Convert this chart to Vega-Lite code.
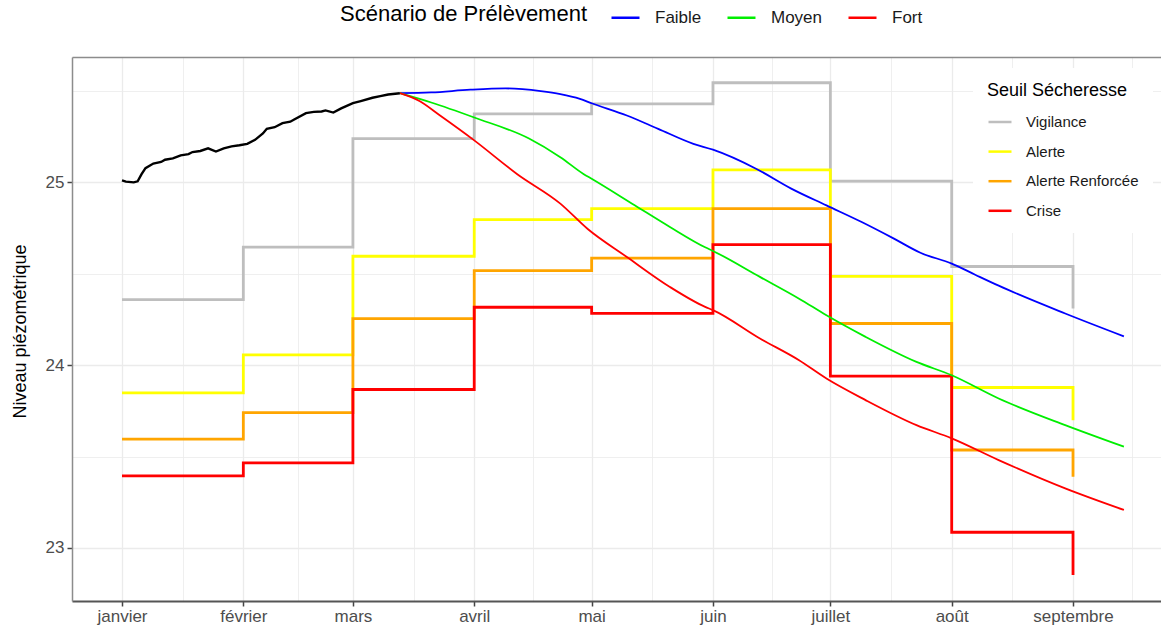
{
  "$schema": "https://vega.github.io/schema/vega-lite/v6.json",
  "width": 1089,
  "height": 544,
  "autosize": {"type": "none"},
  "padding": {"left": 72, "top": 57, "right": 0, "bottom": 25},
  "background": "white",
  "config": {
    "font": "Liberation Sans",
    "view": {"stroke": null}
  },
  "datasets": {
    "obs": [
      {"date": "2023-01-01", "niveau": 25.011},
      {"date": "2023-01-02", "niveau": 25.004},
      {"date": "2023-01-04", "niveau": 25.0},
      {"date": "2023-01-05", "niveau": 25.006},
      {"date": "2023-01-06", "niveau": 25.045},
      {"date": "2023-01-07", "niveau": 25.078},
      {"date": "2023-01-09", "niveau": 25.103},
      {"date": "2023-01-11", "niveau": 25.112},
      {"date": "2023-01-12", "niveau": 25.124},
      {"date": "2023-01-14", "niveau": 25.131},
      {"date": "2023-01-16", "niveau": 25.148},
      {"date": "2023-01-18", "niveau": 25.155},
      {"date": "2023-01-19", "niveau": 25.166},
      {"date": "2023-01-21", "niveau": 25.172},
      {"date": "2023-01-23", "niveau": 25.186},
      {"date": "2023-01-25", "niveau": 25.169},
      {"date": "2023-01-27", "niveau": 25.186},
      {"date": "2023-01-29", "niveau": 25.197},
      {"date": "2023-01-31", "niveau": 25.203},
      {"date": "2023-02-02", "niveau": 25.211},
      {"date": "2023-02-04", "niveau": 25.233},
      {"date": "2023-02-06", "niveau": 25.268},
      {"date": "2023-02-07", "niveau": 25.293},
      {"date": "2023-02-09", "niveau": 25.302},
      {"date": "2023-02-11", "niveau": 25.324},
      {"date": "2023-02-13", "niveau": 25.332},
      {"date": "2023-02-14", "niveau": 25.344},
      {"date": "2023-02-17", "niveau": 25.379},
      {"date": "2023-02-19", "niveau": 25.386},
      {"date": "2023-02-21", "niveau": 25.388},
      {"date": "2023-02-22", "niveau": 25.394},
      {"date": "2023-02-24", "niveau": 25.382},
      {"date": "2023-02-26", "niveau": 25.405},
      {"date": "2023-03-01", "niveau": 25.434},
      {"date": "2023-03-03", "niveau": 25.445},
      {"date": "2023-03-06", "niveau": 25.463},
      {"date": "2023-03-08", "niveau": 25.472},
      {"date": "2023-03-10", "niveau": 25.481},
      {"date": "2023-03-13", "niveau": 25.488}
    ],
    "scen": [
      {"scenario": "Faible", "date": "2023-03-13", "niveau": 25.488},
      {"scenario": "Faible", "date": "2023-03-21", "niveau": 25.492},
      {"scenario": "Faible", "date": "2023-03-31", "niveau": 25.507},
      {"scenario": "Faible", "date": "2023-04-09", "niveau": 25.514},
      {"scenario": "Faible", "date": "2023-04-18", "niveau": 25.499},
      {"scenario": "Faible", "date": "2023-04-23", "niveau": 25.483},
      {"scenario": "Faible", "date": "2023-04-28", "niveau": 25.457},
      {"scenario": "Faible", "date": "2023-05-01", "niveau": 25.433},
      {"scenario": "Faible", "date": "2023-05-10", "niveau": 25.366},
      {"scenario": "Faible", "date": "2023-05-18", "niveau": 25.293},
      {"scenario": "Faible", "date": "2023-05-27", "niveau": 25.211},
      {"scenario": "Faible", "date": "2023-06-01", "niveau": 25.179},
      {"scenario": "Faible", "date": "2023-06-12", "niveau": 25.075},
      {"scenario": "Faible", "date": "2023-06-21", "niveau": 24.966},
      {"scenario": "Faible", "date": "2023-06-30", "niveau": 24.874},
      {"scenario": "Faible", "date": "2023-07-09", "niveau": 24.783},
      {"scenario": "Faible", "date": "2023-07-17", "niveau": 24.695},
      {"scenario": "Faible", "date": "2023-07-24", "niveau": 24.615},
      {"scenario": "Faible", "date": "2023-08-01", "niveau": 24.556},
      {"scenario": "Faible", "date": "2023-08-07", "niveau": 24.495},
      {"scenario": "Faible", "date": "2023-08-13", "niveau": 24.435},
      {"scenario": "Faible", "date": "2023-08-30", "niveau": 24.283},
      {"scenario": "Faible", "date": "2023-09-14", "niveau": 24.158},
      {"scenario": "Moyen", "date": "2023-03-13", "niveau": 25.488},
      {"scenario": "Moyen", "date": "2023-03-21", "niveau": 25.437},
      {"scenario": "Moyen", "date": "2023-04-01", "niveau": 25.355},
      {"scenario": "Moyen", "date": "2023-04-15", "niveau": 25.24},
      {"scenario": "Moyen", "date": "2023-04-23", "niveau": 25.138},
      {"scenario": "Moyen", "date": "2023-04-29", "niveau": 25.045},
      {"scenario": "Moyen", "date": "2023-05-01", "niveau": 25.02},
      {"scenario": "Moyen", "date": "2023-05-12", "niveau": 24.875},
      {"scenario": "Moyen", "date": "2023-05-21", "niveau": 24.756},
      {"scenario": "Moyen", "date": "2023-05-30", "niveau": 24.645},
      {"scenario": "Moyen", "date": "2023-06-01", "niveau": 24.625},
      {"scenario": "Moyen", "date": "2023-06-13", "niveau": 24.483},
      {"scenario": "Moyen", "date": "2023-06-23", "niveau": 24.364},
      {"scenario": "Moyen", "date": "2023-06-30", "niveau": 24.273},
      {"scenario": "Moyen", "date": "2023-07-10", "niveau": 24.155},
      {"scenario": "Moyen", "date": "2023-07-23", "niveau": 24.018},
      {"scenario": "Moyen", "date": "2023-08-01", "niveau": 23.945},
      {"scenario": "Moyen", "date": "2023-08-13", "niveau": 23.818},
      {"scenario": "Moyen", "date": "2023-08-30", "niveau": 23.672},
      {"scenario": "Moyen", "date": "2023-09-14", "niveau": 23.554},
      {"scenario": "Fort", "date": "2023-03-13", "niveau": 25.488},
      {"scenario": "Fort", "date": "2023-03-18", "niveau": 25.445},
      {"scenario": "Fort", "date": "2023-03-23", "niveau": 25.37},
      {"scenario": "Fort", "date": "2023-04-01", "niveau": 25.23},
      {"scenario": "Fort", "date": "2023-04-12", "niveau": 25.045},
      {"scenario": "Fort", "date": "2023-04-23", "niveau": 24.884},
      {"scenario": "Fort", "date": "2023-04-30", "niveau": 24.745},
      {"scenario": "Fort", "date": "2023-05-10", "niveau": 24.592},
      {"scenario": "Fort", "date": "2023-05-21", "niveau": 24.428},
      {"scenario": "Fort", "date": "2023-05-30", "niveau": 24.319},
      {"scenario": "Fort", "date": "2023-06-01", "niveau": 24.301},
      {"scenario": "Fort", "date": "2023-06-13", "niveau": 24.146},
      {"scenario": "Fort", "date": "2023-06-23", "niveau": 24.027},
      {"scenario": "Fort", "date": "2023-06-30", "niveau": 23.927},
      {"scenario": "Fort", "date": "2023-07-10", "niveau": 23.809},
      {"scenario": "Fort", "date": "2023-07-23", "niveau": 23.672},
      {"scenario": "Fort", "date": "2023-08-01", "niveau": 23.6},
      {"scenario": "Fort", "date": "2023-08-13", "niveau": 23.481},
      {"scenario": "Fort", "date": "2023-08-30", "niveau": 23.326},
      {"scenario": "Fort", "date": "2023-09-14", "niveau": 23.208}
    ],
    "seuil": [
      {"seuil": "Vigilance", "date": "2023-01-01", "niveau": 24.359},
      {"seuil": "Vigilance", "date": "2023-02-01", "niveau": 24.646},
      {"seuil": "Vigilance", "date": "2023-03-01", "niveau": 25.24},
      {"seuil": "Vigilance", "date": "2023-04-01", "niveau": 25.375},
      {"seuil": "Vigilance", "date": "2023-05-01", "niveau": 25.43},
      {"seuil": "Vigilance", "date": "2023-06-01", "niveau": 25.545},
      {"seuil": "Vigilance", "date": "2023-07-01", "niveau": 25.007},
      {"seuil": "Vigilance", "date": "2023-08-01", "niveau": 24.54},
      {"seuil": "Vigilance", "date": "2023-09-01", "niveau": 24.31},
      {"seuil": "Alerte", "date": "2023-01-01", "niveau": 23.849},
      {"seuil": "Alerte", "date": "2023-02-01", "niveau": 24.056},
      {"seuil": "Alerte", "date": "2023-03-01", "niveau": 24.596},
      {"seuil": "Alerte", "date": "2023-04-01", "niveau": 24.796},
      {"seuil": "Alerte", "date": "2023-05-01", "niveau": 24.856},
      {"seuil": "Alerte", "date": "2023-06-01", "niveau": 25.069},
      {"seuil": "Alerte", "date": "2023-07-01", "niveau": 24.486},
      {"seuil": "Alerte", "date": "2023-08-01", "niveau": 23.878},
      {"seuil": "Alerte", "date": "2023-09-01", "niveau": 23.699},
      {"seuil": "Alerte Renforcée", "date": "2023-01-01", "niveau": 23.596},
      {"seuil": "Alerte Renforcée", "date": "2023-02-01", "niveau": 23.74},
      {"seuil": "Alerte Renforcée", "date": "2023-03-01", "niveau": 24.255},
      {"seuil": "Alerte Renforcée", "date": "2023-04-01", "niveau": 24.517},
      {"seuil": "Alerte Renforcée", "date": "2023-05-01", "niveau": 24.586},
      {"seuil": "Alerte Renforcée", "date": "2023-06-01", "niveau": 24.856},
      {"seuil": "Alerte Renforcée", "date": "2023-07-01", "niveau": 24.228},
      {"seuil": "Alerte Renforcée", "date": "2023-08-01", "niveau": 23.536},
      {"seuil": "Alerte Renforcée", "date": "2023-09-01", "niveau": 23.39},
      {"seuil": "Crise", "date": "2023-01-01", "niveau": 23.395},
      {"seuil": "Crise", "date": "2023-02-01", "niveau": 23.466},
      {"seuil": "Crise", "date": "2023-03-01", "niveau": 23.867},
      {"seuil": "Crise", "date": "2023-04-01", "niveau": 24.317},
      {"seuil": "Crise", "date": "2023-05-01", "niveau": 24.283},
      {"seuil": "Crise", "date": "2023-06-01", "niveau": 24.66},
      {"seuil": "Crise", "date": "2023-07-01", "niveau": 23.94},
      {"seuil": "Crise", "date": "2023-08-01", "niveau": 23.086},
      {"seuil": "Crise", "date": "2023-09-01", "niveau": 22.852}
    ]
  },
  "resolve": {"scale": {"color": "independent"}, "axis": {"x": "independent"}},
  "layer": [
    {
      "data": {"name": "seuil"},
      "mark": {"type": "line", "interpolate": "step-after", "strokeWidth": 2.8, "strokeCap": "butt"},
      "encoding": {
        "x": {
          "field": "date", "type": "temporal",
          "scale": {"type": "utc", "domain": [1671427353600, 1695468672000], "nice": false},
          "axis": {
            "orient": "bottom",
            "title": null,
            "values": [1672531200000, 1673870400000, 1675209600000, 1676419200000, 1677628800000, 1678968000000, 1680307200000, 1681603200000, 1682899200000, 1684238400000, 1685577600000, 1686873600000, 1688169600000, 1689508800000, 1690848000000, 1692187200000, 1693526400000, 1694822400000],
            "labelExpr": "utcdate(datum.value) == 1 ? ['janvier','février','mars','avril','mai','juin','juillet','août','septembre','octobre','novembre','décembre'][utcmonth(datum.value)] : ''",
            "labelFontSize": 17,
            "labelColor": "#4d4d4d",
            "labelPadding": 2,
            "labelFlush": false,
            "labelOverlap": false,
            "tickSize": 5,
            "tickWidth": 1.5,
            "tickColor": {"condition": {"test": "utcdate(datum.value) != 1", "value": "transparent"}, "value": "#444444"},
            "domainColor": "#555555",
            "domainWidth": 2,
            "grid": true,
            "gridColor": "#EBEBEB",
            "gridWidth": {"condition": {"test": "utcdate(datum.value) != 1", "value": 0.8}, "value": 1.3}
          }
        },
        "y": {
          "field": "niveau", "type": "quantitative",
          "scale": {"domain": [22.71, 25.686], "nice": false, "zero": false},
          "axis": {
            "title": "Niveau piézométrique",
            "titleFontSize": 18,
            "titleFontWeight": "normal",
            "titleColor": "#000000",
            "titleX": -52,
            "titleY": 274,
            "titleAngle": 270,
            "titleAlign": "center",
            "titleBaseline": "middle",
            "values": [23, 23.5, 24, 24.5, 25, 25.5],
            "labelExpr": "datum.value % 1 == 0 ? format(datum.value, 'd') : ''",
            "labelFontSize": 17,
            "labelColor": "#4d4d4d",
            "labelPadding": 3,
            "tickSize": 5,
            "tickWidth": 1.5,
            "tickColor": {"condition": {"test": "datum.value % 1 != 0", "value": "transparent"}, "value": "#444444"},
            "domainColor": "#8c8c8c",
            "domainWidth": 1.5,
            "grid": true,
            "gridColor": "#EBEBEB",
            "gridWidth": {"condition": {"test": "datum.value % 1 != 0", "value": 0.8}, "value": 1.3}
          }
        },
        "color": {
          "field": "seuil", "type": "nominal",
          "scale": {"domain": ["Vigilance", "Alerte", "Alerte Renforcée", "Crise"], "range": ["#BEBEBE", "#FFFF00", "#FFA500", "#FF0000"]},
          "legend": {
            "title": "Seuil Sécheresse",
            "orient": "none",
            "legendX": 901,
            "legendY": 11,
            "padding": 14,
            "fillColor": "white",
            "titleFontSize": 18,
            "titleFontWeight": "normal",
            "titleColor": "#000000",
            "titlePadding": 9,
            "titleLimit": 400,
            "labelFontSize": 15,
            "labelColor": "#1a1a1a",
            "labelOffset": 13,
            "labelLimit": 400,
            "symbolType": "stroke",
            "symbolSize": 529,
            "symbolStrokeWidth": 2.5,
            "rowPadding": 8.6
          }
        }
      }
    },
    {
      "data": {"name": "scen"},
      "mark": {"type": "line", "strokeWidth": 1.8, "interpolate": "monotone"},
      "encoding": {
        "x": {"field": "date", "type": "temporal", "axis": null},
        "y": {"field": "niveau", "type": "quantitative"},
        "color": {
          "field": "scenario", "type": "nominal",
          "scale": {"domain": ["Faible", "Moyen", "Fort"], "range": ["#0000FF", "#00EE00", "#FF0000"]},
          "legend": {
            "title": "Scénario de Prélèvement",
            "orient": "none",
            "direction": "horizontal",
            "legendX": 268,
            "legendY": -55,
            "padding": 0,
            "titleOrient": "left",
            "titleAnchor": "middle",
            "titleBaseline": "middle",
            "titleFontSize": 22,
            "titleFontWeight": "normal",
            "titleColor": "#000000",
            "titlePadding": 22,
            "titleLimit": 500,
            "labelFontSize": 17,
            "labelColor": "#1a1a1a",
            "labelOffset": 14,
            "columnPadding": 20,
            "symbolType": "stroke",
            "symbolSize": 784,
            "symbolStrokeWidth": 2.5
          }
        }
      }
    },
    {
      "data": {"name": "obs"},
      "mark": {"type": "line", "color": "#000000", "strokeWidth": 2.4},
      "encoding": {
        "x": {
          "field": "date", "type": "temporal",
          "axis": {"orient": "top", "title": null, "labels": false, "ticks": false, "grid": false, "domainColor": "#8c8c8c", "domainWidth": 1.5}
        },
        "y": {"field": "niveau", "type": "quantitative"}
      }
    }
  ]
}
